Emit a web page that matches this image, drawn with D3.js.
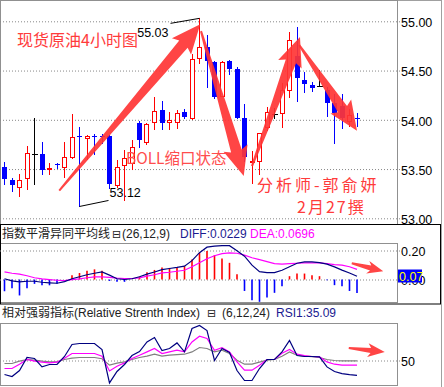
<!DOCTYPE html>
<html>
<head>
<meta charset="utf-8">
<script src="https://cdn.jsdelivr.net/npm/d3@7"></script>
<style>
  html, body { margin: 0; padding: 0; background: #fff; }
  svg { display: block; }
</style>
</head>
<body>
<svg id="chart"></svg>
<script>
// 4小时K线（开 高 低 收）
const opens  = [53.52,53.39,53.32,53.41,53.65,53.65,53.50,53.55,53.52,53.62,53.84,53.82,53.84,53.84,53.84,53.34,53.54,53.56,53.97,53.77,53.98,54.10,53.98,53.98,54.08,54.02,54.63,54.74,54.59,54.24,54.60,54.52,54.02,53.57,53.58,53.93,54.06,54.07,54.30,54.65,54.40,54.35,54.34,54.30,54.17,54.14,53.99,54.02];
const highs  = [53.57,53.41,53.45,53.73,54.02,53.77,53.56,53.56,53.77,54.06,53.93,53.85,53.86,53.86,53.85,53.59,53.69,53.79,53.99,53.97,54.23,54.19,54.08,54.10,54.11,54.67,55.03,54.86,54.60,54.60,54.61,54.54,54.16,53.68,53.87,54.13,54.12,54.37,54.89,54.94,54.49,54.38,54.51,54.33,54.26,54.26,54.11,54.07];
const lows   = [53.35,53.28,53.23,53.30,53.35,53.45,53.45,53.51,53.42,53.61,53.12,53.60,53.65,53.76,53.31,53.32,53.19,53.50,53.72,53.75,53.91,53.91,53.91,53.92,54.02,54.01,54.58,54.33,54.22,54.24,54.47,54.02,53.58,53.36,53.45,53.90,54.02,53.93,54.23,54.19,54.28,54.29,54.34,54.04,53.76,53.92,53.94,53.94];
const closes = [53.40,53.34,53.39,53.66,53.65,53.49,53.51,53.54,53.62,53.83,53.83,53.84,53.83,53.83,53.35,53.52,53.61,53.72,53.79,53.96,54.09,53.97,54.00,54.07,54.03,54.62,54.74,54.60,54.23,54.59,54.52,54.02,53.62,53.58,53.87,54.08,54.06,54.30,54.81,54.42,54.36,54.32,54.34,54.17,54.07,54.02,54.05,54.01];

// MACD(26,12,9)
const diffs = [0.005,-0.010,-0.017,-0.012,-0.012,-0.019,-0.023,-0.026,-0.015,0.005,0.019,0.033,0.043,0.052,0.030,0.005,0.000,0.005,0.019,0.037,0.052,0.068,0.076,0.083,0.092,0.130,0.185,0.223,0.230,0.233,0.233,0.199,0.161,0.099,0.054,0.047,0.047,0.064,0.088,0.112,0.121,0.121,0.116,0.106,0.087,0.065,0.045,0.0229];
const deas  = [0.052,0.043,0.037,0.026,0.012,0.004,-0.001,-0.005,-0.008,-0.001,0.004,0.012,0.018,0.018,0.014,0.009,0.007,0.007,0.011,0.023,0.033,0.046,0.050,0.057,0.064,0.088,0.116,0.143,0.164,0.178,0.183,0.181,0.168,0.150,0.137,0.123,0.109,0.106,0.109,0.112,0.114,0.114,0.114,0.109,0.103,0.099,0.088,0.0696];
const macdBars = [-0.081,-0.060,-0.110,-0.060,-0.030,-0.040,-0.040,-0.030,0.000,0.030,0.045,0.060,0.070,0.060,-0.010,-0.016,-0.016,0.000,0.020,0.050,0.066,0.083,0.080,0.087,0.092,0.138,0.184,0.197,0.168,0.145,0.115,0.037,-0.079,-0.143,-0.154,-0.124,-0.092,-0.046,0.023,0.041,0.041,0.030,0.023,-0.005,-0.039,-0.046,-0.079,-0.093];

// RSI(6,12,24)
const rsi6  = [36,34,40,53,52,43.6,46,46,54,66,67,67,67,61,27.6,39,46,55,59,68.6,73,60,62,67.6,58.6,82,85,80,50,62,58,40,30,30,42,51,51,58.6,70,55,54,54,53.6,43.6,39,36.8,35.8,35.09];
const rsi12 = [42,42,46.3,51,49.3,48.3,47.6,48.3,52.3,57,57,57,57,54.3,39.6,44.3,47.6,52,55.3,58.6,62,57,58.6,60.3,58.6,68.6,74.3,72,60.3,62.8,58.6,48.6,40.3,40.3,45.3,51,51,57.3,61,56.3,54.8,54,53.6,48.6,46.3,45.3,45.3,45.3];
const rsi24 = [47,47,49.3,51,50.3,49.3,48.6,48.6,51,52.3,53,53,53,51.8,45.3,47.3,48.6,51,53,54.3,56.3,54.3,55.3,55.8,56.3,58.6,63,62,58.6,60.3,57,50.3,46.3,46.3,48.3,50.3,51,54.3,58.6,55.3,54.3,53.8,53,51,50,49.6,49.6,49.6];

// 刻度
const priceTicks = [55.00, 54.50, 54.00, 53.50, 53.00];
const macdTicks  = [0.20, 0.00];
const rsiTicks   = [50];

// 手绘箭头（K线序号, 数值）
const mainArrows = [
  [7.3, 53.28, 26.1, 54.97],
  [26.2, 54.90, 31.9, 53.43],
  [33.0, 53.53, 39.4, 54.84],
  [39.3, 54.76, 47.0, 53.89],
];
const macdArrow = [46.3, 0.112, 50.5, 0.057];
const rsiArrow  = [45.9, 62.5, 50.7, 58.5];

const W = 444, H = 387;
const LATIN = 'Liberation Sans, Arial, Noto Sans CJK SC, sans-serif';
const CJK = 'Noto Sans CJK SC, sans-serif';

const svg = d3.select('#chart').attr('width', W).attr('height', H);

const x = d3.scaleLinear().domain([0, 47]).range([4.5, 357]);
const px = i => Math.floor(x(i)) + 0.5;
const yMain = d3.scaleLinear().domain([53, 55]).range([218.3, 21.3]);
const yMacd = d3.scaleLinear().domain([0, 0.2]).range([279.5, 250.5]);
const yRsi  = d3.scaleLinear().domain([0, 100]).range([410.5, 310.5]);

// 外框
svg.append('line').attr('x1', 0).attr('x2', 442).attr('y1', 0.5).attr('y2', 0.5).attr('stroke', '#a0a0a0');
svg.append('line').attr('x1', 441.5).attr('x2', 441.5).attr('y1', 0).attr('y2', H).attr('stroke', '#a0a0a0');
svg.append('rect').attr('x', 0.5).attr('y', 0.5).attr('width', 397).attr('height', 224)
  .attr('fill', 'none').attr('stroke', '#909090');
svg.append('rect').attr('x', 0.5).attr('y', 243.5).attr('width', 397).attr('height', 59)
  .attr('fill', 'none').attr('stroke', '#909090');
svg.append('rect').attr('x', 0.5).attr('y', 323.5).attr('width', 397).attr('height', 62)
  .attr('fill', 'none').attr('stroke', '#909090');
svg.append('rect').attr('x', 0.5).attr('y', 224.5).attr('width', 440).attr('height', 79.5)
  .attr('fill', 'none').attr('stroke', '#000');

// 网格 + 右侧刻度
function gridAxis(scale, ticks, fmt) {
  const g = svg.append('g').attr('transform', 'translate(400,0)')
    .call(d3.axisRight(scale).tickValues(ticks).tickFormat(fmt).tickSize(-400).tickPadding(1));
  g.select('.domain').remove();
  g.selectAll('.tick line').attr('stroke', '#888').attr('stroke-dasharray', '1,2');
  g.selectAll('.tick text').attr('fill', '#000').attr('font-family', LATIN).attr('font-size', 12.5).attr('dy', '0.42em');
  return g;
}
gridAxis(yMain, priceTicks, d3.format('.2f'));
gridAxis(yMacd, macdTicks, d3.format('.2f'));
gridAxis(yRsi, rsiTicks, d3.format('d'));

// K线
const candles = opens.map((o, i) => ({ i, o, h: highs[i], l: lows[i], c: closes[i] }));
const colorOf = d => d.c > d.o ? '#ff0000' : d.c < d.o ? '#0000ff' : '#000000';
const cg = svg.append('g').attr('shape-rendering', 'crispEdges');

cg.selectAll('line.wick').data(candles).join('line')
  .attr('class', 'wick')
  .attr('x1', d => px(d.i)).attr('x2', d => px(d.i))
  .attr('y1', d => Math.round(yMain(d.h))).attr('y2', d => Math.round(yMain(d.l)) + 1)
  .attr('stroke', colorOf);

cg.selectAll('rect.up').data(candles.filter(d => d.c > d.o)).join('rect')
  .attr('class', 'up')
  .attr('x', d => px(d.i) - 2).attr('width', 4)
  .attr('y', d => Math.round(yMain(d.c)) + 0.5)
  .attr('height', d => Math.max(1, Math.round(yMain(d.o)) - Math.round(yMain(d.c))))
  .attr('fill', '#fff').attr('stroke', '#ff0000');

cg.selectAll('rect.down').data(candles.filter(d => d.c < d.o)).join('rect')
  .attr('class', 'down')
  .attr('x', d => px(d.i) - 2.5).attr('width', 5)
  .attr('y', d => Math.round(yMain(d.o)))
  .attr('height', d => Math.max(1, Math.round(yMain(d.c)) - Math.round(yMain(d.o))))
  .attr('fill', '#0000ff');

cg.selectAll('line.doji').data(candles.filter(d => d.c === d.o)).join('line')
  .attr('class', 'doji')
  .attr('x1', d => px(d.i) - 3).attr('x2', d => px(d.i) + 3)
  .attr('y1', d => Math.round(yMain(d.o)) + 0.5).attr('y2', d => Math.round(yMain(d.o)) + 0.5)
  .attr('stroke', '#000');

// 最高 / 最低标注
const iHi = d3.maxIndex(highs), iLo = d3.minIndex(lows);
const hx = px(iHi), hy = yMain(highs[iHi]);
svg.append('line').attr('x1', hx - 29).attr('y1', hy + 5).attr('x2', hx).attr('y2', hy).attr('stroke', '#000');
svg.append('text').attr('x', hx - 31).attr('y', hy + 19).attr('text-anchor', 'end')
  .attr('font-family', LATIN).attr('font-size', 12.5).attr('fill', '#000')
  .text(d3.format('.2f')(highs[iHi]));
const lx = px(iLo), ly = yMain(lows[iLo]);
svg.append('line').attr('x1', lx).attr('y1', ly).attr('x2', lx + 29).attr('y2', ly - 6).attr('stroke', '#000');
svg.append('text').attr('x', lx + 30).attr('y', ly - 9)
  .attr('font-family', LATIN).attr('font-size', 12.5).attr('fill', '#000')
  .text(d3.format('.2f')(lows[iLo]));

// MACD
const mg = svg.append('g');
mg.selectAll('line').data(macdBars).join('line')
  .attr('x1', (d, i) => x(i)).attr('x2', (d, i) => x(i))
  .attr('y1', yMacd(0)).attr('y2', d => yMacd(d))
  .attr('stroke', d => d >= 0 ? '#ff0000' : '#0000ff').attr('stroke-width', 1.6);
const lineOf = (scale) => d3.line().x((d, i) => x(i)).y(d => scale(d));
mg.append('path').attr('d', lineOf(yMacd)(deas)).attr('fill', 'none').attr('stroke', '#ff00ff').attr('stroke-width', 1.2);
mg.append('path').attr('d', lineOf(yMacd)(diffs)).attr('fill', 'none').attr('stroke', '#000080').attr('stroke-width', 1.2);

// RSI
const rg = svg.append('g');
rg.append('path').attr('d', lineOf(yRsi)(rsi24)).attr('fill', 'none').attr('stroke', '#808080').attr('stroke-width', 1.2);
rg.append('path').attr('d', lineOf(yRsi)(rsi12)).attr('fill', 'none').attr('stroke', '#ff00ff').attr('stroke-width', 1.2);
rg.append('path').attr('d', lineOf(yRsi)(rsi6)).attr('fill', 'none').attr('stroke', '#000080').attr('stroke-width', 1.2);

// 当前 DEA 值标签
const deaLast = deas[deas.length - 1];
svg.append('rect').attr('x', 398).attr('y', Math.round(yMacd(deaLast)) + 0.5).attr('width', 24).attr('height', 13).attr('fill', '#0000ff');
svg.append('text').attr('x', 399).attr('y', Math.round(yMacd(deaLast)) + 11.5)
  .attr('font-family', LATIN).attr('font-size', 12.5).attr('fill', '#ffff00')
  .text(d3.format('.2f')(deaLast));

// 箭头
function arrowPath(x1, y1, x2, y2, w0, w1, hl, hw) {
  const len = Math.hypot(x2 - x1, y2 - y1);
  const ux = (x2 - x1) / len, uy = (y2 - y1) / len;
  const nx = -uy, ny = ux;
  const bx = x2 - ux * hl, by = y2 - uy * hl;
  const p = [
    [x1 + nx * w0 / 2, y1 + ny * w0 / 2],
    [bx + nx * w1 / 2, by + ny * w1 / 2],
    [bx - ux * 3 + nx * hw / 2, by - uy * 3 + ny * hw / 2],
    [x2, y2],
    [bx - ux * 3 - nx * hw / 2, by - uy * 3 - ny * hw / 2],
    [bx - nx * w1 / 2, by - ny * w1 / 2],
    [x1 - nx * w0 / 2, y1 - ny * w0 / 2],
  ];
  return 'M' + p.map(q => q.join(',')).join('L') + 'Z';
}
const ag = svg.append('g').attr('fill', '#ff3535').attr('fill-opacity', 0.92);
mainArrows.forEach(a => {
  ag.append('path').attr('d', arrowPath(x(a[0]), yMain(a[1]), x(a[2]), yMain(a[3]), 2, 11, 26, 25));
});
ag.append('path').attr('d', arrowPath(x(macdArrow[0]), yMacd(macdArrow[1]), x(macdArrow[2]), yMacd(macdArrow[3]), 2, 5, 13, 13));
ag.append('path').attr('d', arrowPath(x(rsiArrow[0]), yRsi(rsiArrow[1]), x(rsiArrow[2]), yRsi(rsiArrow[3]), 2, 5, 14, 14));

// 文字注释
const red = '#ff3b3b';
svg.append('text').attr('x', 17).attr('y', 46).attr('font-family', CJK).attr('font-size', 16).attr('fill', red).text('现货原油4小时图');
svg.append('text').attr('x', 126).attr('y', 164).attr('font-family', CJK).attr('font-size', 15.5).attr('fill', '#ff4d4d').text('BOLL缩口状态');
svg.append('text').attr('x', 257).attr('y', 191).attr('font-family', CJK).attr('font-size', 16).attr('letter-spacing', 3).attr('fill', red).text('分析师-郭俞妍');
svg.append('text').attr('x', 297).attr('y', 213).attr('font-family', CJK).attr('font-size', 16).attr('letter-spacing', 2).attr('fill', red).text('2月27撰');

// 副图标题
const f4 = d3.format('.4f');
const t1 = svg.append('g').attr('font-family', LATIN).attr('font-size', 12);
t1.append('text').attr('x', 2).attr('y', 238).attr('fill', '#222').text('指数平滑异同平均线');
t1.append('text').attr('x', 112).attr('y', 238).attr('fill', '#222').attr('font-family', 'DejaVu Sans').attr('font-size', 11).text('⊟');
t1.append('text').attr('x', 122).attr('y', 238).attr('fill', '#222').text('(26,12,9)');
t1.append('text').attr('x', 180).attr('y', 238).attr('fill', '#1a1a90').text('DIFF:' + f4(diffs[diffs.length - 1]));
t1.append('text').attr('x', 250).attr('y', 238).attr('fill', '#ff00ff').text('DEA:' + f4(deaLast));

const t2 = svg.append('g').attr('font-family', LATIN).attr('font-size', 12);
t2.append('text').attr('x', 2).attr('y', 317).attr('fill', '#222').text('相对强弱指标(Relative Strenth Index)');
t2.append('text').attr('x', 207).attr('y', 317).attr('fill', '#222').attr('font-family', 'DejaVu Sans').attr('font-size', 11).text('⊟');
t2.append('text').attr('x', 222).attr('y', 317).attr('fill', '#222').text('(6,12,24)');
t2.append('text').attr('x', 276).attr('y', 317).attr('fill', '#1a1a90').text('RSI1:' + d3.format('.2f')(rsi6[rsi6.length - 1]));
</script>
</body>
</html>
